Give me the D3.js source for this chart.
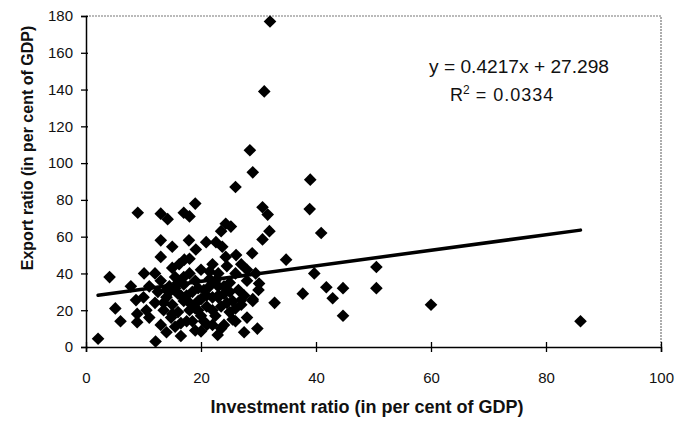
<!DOCTYPE html>
<html lang="en">
<head>
    <meta charset="UTF-8">
    <title>Export ratio vs investment ratio</title>
    <script src="https://d3js.org/d3.v7.min.js"></script>
    <style>
        body { margin: 0; background: #fff; }
        svg text { font-family: "Liberation Sans", Arial, sans-serif; fill: #111; }
    </style>
</head>
<body>
    <svg id="chart" width="678" height="423"></svg>
    <script>
        // investment ratio (x) and export ratio (y), per cent of GDP
        const investment = [
            32, 31, 28.5, 29, 39, 26, 19, 9, 13, 14.2, 17, 18, 30.7, 31.6, 38.9,
            40.9, 31.9, 30.7, 24.3, 25.2, 23.5, 13, 15, 17.9, 19.1, 20.9, 22.6, 23.7,
            13, 17.1, 16.2, 24.3, 26.1, 28.9, 34.8, 4.1, 10.1, 7.8, 30.1, 39.7,
            50.5, 50.5, 41.8, 44.7, 42.9, 37.7, 32.8, 44.7, 29.8, 5.1, 6, 2.1, 12.1,
            22.9, 20, 60, 86, 8.9, 8.9, 8.7,
            10, 10.5, 11, 11, 12, 12.5, 13, 13, 13.5, 14, 14, 14.5, 14.8, 15, 15.5,
            15.5, 16, 16, 16.5, 17, 17, 17.5, 18, 18, 18.5, 19, 19, 19.5, 20, 20,
            20.5, 21, 21, 21.5, 22, 22, 22.5, 23, 23, 23.5, 24, 24, 24.5, 25, 25,
            25.5, 26, 26.5, 27, 27, 27.5, 28, 28, 29, 29.5, 30, 26, 18, 15, 12, 27.5,
            27, 29, 21.5, 16.5, 19.5, 23, 25.5, 14, 28,
            13.5, 14.5, 15, 16, 16.5, 17.5, 18, 19, 19.5, 20.5, 21, 22, 22.5, 23.5,
            24, 24.5, 25, 26, 17, 20, 22, 18.5, 15.5, 21.5, 23
        ];
        const exports = [
            177, 139, 107, 95, 91, 87, 78, 73, 72.5, 69.5, 73, 71, 76, 72, 75,
            62, 63, 58.5, 67, 65.5, 63, 58, 54.5, 58, 53, 57, 57, 54.5,
            49, 47.5, 45, 49, 50, 51, 47.5, 38, 40, 33, 34.5, 40,
            43.5, 32, 32.5, 32, 26.5, 29, 24, 17, 10, 21, 14, 4.5, 3,
            6.5, 8.5, 23, 14, 13.5, 18, 25.5,
            27, 20, 33, 16, 24, 30, 12, 36, 20, 27, 8, 33, 16, 23, 38,
            11, 29, 19, 6, 34, 25, 14, 40, 20, 30, 9, 36, 25, 17, 42,
            31, 22, 12, 37, 27, 45, 17, 33, 40, 22, 29, 12, 44, 35, 19,
            25, 40, 31, 23, 45, 28, 36, 16, 26, 40, 31, 14, 48, 43, 40, 8,
            25.5, 25, 33, 28, 20, 28, 15, 31, 42,
            24, 30, 18, 35, 13, 28, 24, 21, 32, 14, 28, 20, 36, 10,
            33, 24, 30, 21, 38, 26, 12, 14, 32, 41, 27
        ];
        const slope = 0.4217, intercept = 27.298;
        const equationLabel = "y = 0.4217x + 27.298";
        const xTicks = [0, 20, 40, 60, 80, 100];
        const yTicks = [0, 20, 40, 60, 80, 100, 120, 140, 160, 180];
        const xTitle = "Investment ratio (in per cent of GDP)";
        const yTitle = "Export ratio (in per cent of GDP)";

        const margin = {top: 16, right: 17, bottom: 76, left: 86};
        const svg = d3.select("#chart");
        const width = 678 - margin.left - margin.right;
        const height = 423 - margin.top - margin.bottom;
        const g = svg.append("g").attr("transform", `translate(${margin.left},${margin.top})`);

        const x = d3.scaleLinear().domain([0, 100]).range([0, width]);
        const y = d3.scaleLinear().domain([0, 180]).range([height, 0]);

        // dotted frame on top and right, like the Excel plot area
        g.append("path")
            .attr("d", `M0,0H${width}V${height}`)
            .attr("fill", "none").attr("stroke", "#777")
            .attr("stroke-width", 1.2).attr("stroke-dasharray", "2,1");

        const xAxis = g.append("g").attr("transform", `translate(0,${height})`)
            .call(d3.axisBottom(x).tickValues(xTicks).tickSize(5).tickPadding(20));
        xAxis.selectAll(".tick line").attr("y1", -5).attr("y2", 5).attr("stroke-width", 1.3);
        xAxis.selectAll("text").attr("font-size", 15);

        const yAxis = g.append("g")
            .call(d3.axisLeft(y).tickValues(yTicks).tickSize(5).tickPadding(8));
        yAxis.selectAll(".tick line").attr("x1", -5).attr("x2", 2).attr("stroke-width", 1.3);
        yAxis.selectAll("text").attr("font-size", 15);
        svg.selectAll(".domain").attr("stroke-width", 1.5);

        // markers
        const diamond = d3.symbol(d3.symbolSquare, 80);
        g.selectAll(".pt").data(investment.map((v, i) => [v, exports[i]]))
            .enter().append("path")
            .attr("class", "pt")
            .attr("d", diamond)
            .attr("transform", d => `translate(${x(d[0])},${y(d[1])}) rotate(45)`)
            .attr("fill", "#000");

        // linear trend line over the data range
        const xr = d3.extent(investment);
        g.append("line")
            .attr("x1", x(xr[0])).attr("y1", y(slope * xr[0] + intercept))
            .attr("x2", x(xr[1])).attr("y2", y(slope * xr[1] + intercept))
            .attr("stroke", "#000").attr("stroke-width", 3.5).attr("stroke-linecap", "round");

        // equation
        svg.append("text").attr("x", 429).attr("y", 73)
            .attr("font-size", 18).attr("textLength", 180).attr("lengthAdjust", "spacingAndGlyphs")
            .text(equationLabel);
        const r2 = svg.append("text").attr("x", 450).attr("y", 101)
            .attr("font-size", 18);
        r2.append("tspan").text("R");
        r2.append("tspan").attr("dy", -7).attr("font-size", 12).text("2");
        r2.append("tspan").attr("dy", 7).attr("letter-spacing", 1).text(" = 0.0334");

        // axis titles
        svg.append("text").attr("x", 367).attr("y", 413)
            .attr("text-anchor", "middle").attr("font-size", 18).attr("font-weight", "bold")
            .attr("fill", "#222").text(xTitle);
        svg.append("text").attr("transform", "translate(33,148) rotate(-90)")
            .attr("text-anchor", "middle").attr("font-size", 16).attr("font-weight", "bold")
            .attr("fill", "#222").text(yTitle);
    </script>
</body>
</html>
